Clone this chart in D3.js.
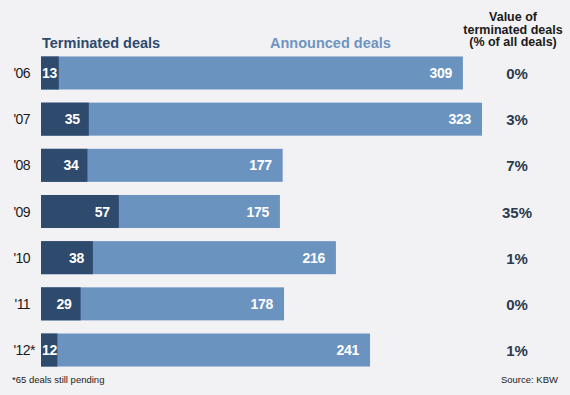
<!DOCTYPE html>
<html><head><meta charset="utf-8">
<script src="https://cdn.jsdelivr.net/npm/d3@7"></script>
<style>
html,body{margin:0;padding:0;background:#f2f2f4;}
svg{display:block;font-family:"Liberation Sans",Arial,Helvetica,sans-serif;}
</style></head><body>
<div id="chart"></div>
<script>
const years = ["'06","'07","'08","'09","'10","'11","'12*"];
const terminated = [13,35,34,57,38,29,12];
const announced = [309,323,177,175,216,178,241];
const valuePct = ["0%","3%","7%","35%","1%","0%","1%"];

const W=570,H=395;
const svg=d3.select("#chart").append("svg").attr("width",W).attr("height",H);
svg.append("rect").attr("width",W).attr("height",H).attr("fill","#f2f2f4");

const dark="#2e4a6d", light="#6b93c0", textDark="#1a1a1a";
const x0=41;
const x=d3.scaleLinear().domain([0,323]).range([x0,482]);
const y=d3.scaleBand().domain(years).range([50,373]).paddingInner(0.285).paddingOuter(0.14);

// headers
svg.append("text").attr("x",42).attr("y",48).attr("fill","#2e4a6d")
  .attr("font-size",14.5).attr("font-weight","bold").text("Terminated deals");
svg.append("text").attr("x",270).attr("y",48).attr("fill","#6f94c0")
  .attr("font-size",14.5).attr("font-weight","bold").text("Announced deals");
const hdr=["Value of","terminated deals","(% of all deals)"];
svg.append("g").selectAll("text").data(hdr).join("text")
  .attr("x",513).attr("y",(d,i)=>21+i*12.5).attr("text-anchor","middle")
  .attr("font-size",12.5).attr("font-weight","bold").attr("fill",textDark).text(d=>d);

const rows=svg.append("g").selectAll("g").data(years).join("g");
rows.append("rect").attr("x",x0).attr("y",d=>y(d)).attr("height",y.bandwidth())
  .attr("width",(d,i)=>x(announced[i])-x0).attr("fill",light);
rows.append("rect").attr("x",x0).attr("y",d=>y(d)).attr("height",y.bandwidth())
  .attr("width",(d,i)=>x(terminated[i])-x0).attr("fill",dark);
rows.append("text").attr("x",30).attr("y",d=>y(d)+y.bandwidth()/2+5)
  .attr("text-anchor","end").attr("font-size",14).attr("fill",textDark)
  .attr("letter-spacing",-0.6).text(d=>d.replace("*",""));
rows.filter(d=>d.includes("*")).append("text").attr("x",30).attr("y",d=>y(d)+y.bandwidth()/2+5)
  .attr("font-size",14).attr("fill",textDark).text("*");
rows.append("text")
  .attr("x",(d,i)=>Math.max(x(terminated[i])-9, x0+16))
  .attr("y",d=>y(d)+y.bandwidth()/2+5).attr("text-anchor","end")
  .attr("font-size",14).attr("font-weight","bold").attr("fill","#fff")
  .attr("letter-spacing",-0.3).text((d,i)=>terminated[i]);
rows.append("text")
  .attr("x",(d,i)=>x(announced[i])-11)
  .attr("y",d=>y(d)+y.bandwidth()/2+5).attr("text-anchor","end")
  .attr("font-size",14).attr("font-weight","bold").attr("fill","#fff")
  .attr("letter-spacing",-0.3).text((d,i)=>announced[i]);
rows.append("text").attr("x",517).attr("y",d=>y(d)+y.bandwidth()/2+6)
  .attr("text-anchor","middle").attr("font-size",15).attr("font-weight","bold")
  .attr("fill","#2b3a4e").text((d,i)=>valuePct[i]);

svg.append("text").attr("x",12).attr("y",383).attr("font-size",9.5).attr("fill",textDark)
  .text("*65 deals still pending");
svg.append("text").attr("x",558).attr("y",383).attr("text-anchor","end").attr("font-size",9.5)
  .attr("fill",textDark).text("Source: KBW");
</script></body></html>
